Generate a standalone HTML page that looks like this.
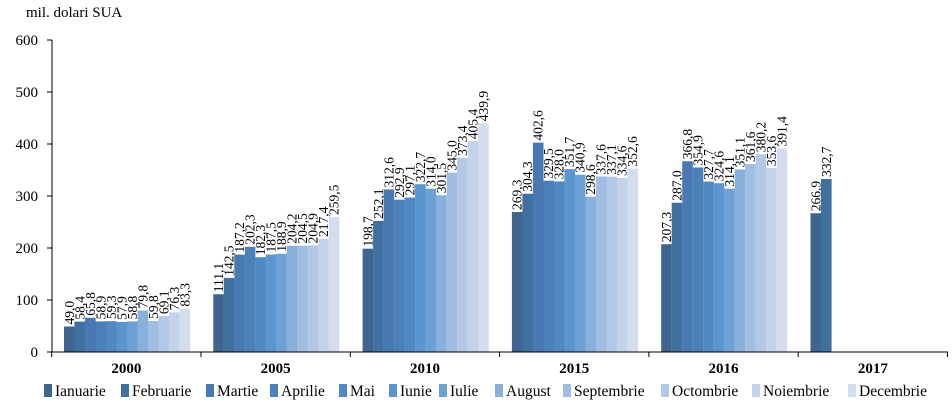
<!DOCTYPE html><html><head><meta charset="utf-8"><style>body{margin:0;background:#fff}svg{display:block}text{font-family:"Liberation Serif",serif;fill:#000}</style></head><body>
<svg id="s" width="952" height="412" xmlns="http://www.w3.org/2000/svg"></svg>
<script>
const s=document.getElementById('s');const NS='http://www.w3.org/2000/svg';
function el(t,a,txt){const e=document.createElementNS(NS,t);for(const k in a)e.setAttribute(k,a[k]);if(txt!==undefined)e.textContent=txt;s.appendChild(e);return e;}
const cols=['#3e6590','#41709f','#4879b0','#4b80b9','#5088c3','#5b95cf','#6ca1d6','#89afdc','#a1bee2','#b3c8e6','#c3d3ec','#d3ddee'];
const data=[[49.0,58.4,65.8,58.9,59.3,57.9,58.8,79.8,59.8,69.1,76.3,83.3],
[111.1,142.5,187.2,202.3,182.3,187.5,188.9,204.2,204.5,204.9,217.4,259.5],
[198.7,252.1,312.6,292.9,297.1,322.7,314.0,301.5,345.0,373.4,405.4,439.9],
[269.3,304.3,402.6,329.5,328.0,351.7,340.9,298.6,337.6,337.1,334.6,352.6],
[207.3,287.0,366.8,354.9,327.7,324.6,314.1,351.1,361.6,380.2,353.6,391.4],
[266.9,332.7]];
const years=['2000','2005','2010','2015','2016','2017'];
const x0=51.7,gw=149.3,y0=352,k=0.52;
el('text',{x:26,y:17,'font-size':15},'mil. dolari SUA');
for(let i=0;i<=6;i++){const y=y0-i*52;el('line',{x1:47,x2:52,y1:y,y2:y,stroke:'#000'});el('text',{x:38,y:y+5,'font-size':15,'text-anchor':'end'},i*100);}
data.forEach((g,gi)=>{g.forEach((v,j)=>{const x=x0+gi*gw+12.3+j*10.5;const h=v*k;
el('rect',{x:x,y:y0-h,width:10.6,height:h,fill:cols[j]});
el('text',{transform:`translate(${x+9.8},${y0-h-2}) rotate(-90)`,'font-size':13.5},v.toFixed(1).replace('.',','));});
el('text',{x:x0+gi*gw+gw/2,y:373,'font-size':15,'font-weight':'bold','text-anchor':'middle'},years[gi]);});
el('line',{x1:52,x2:52,y1:40,y2:352,stroke:'#000'});
el('line',{x1:52,x2:948,y1:352,y2:352,stroke:'#000'});
for(let i=0;i<=6;i++){const x=x0+i*gw;el('line',{x1:x,x2:x,y1:352,y2:357,stroke:'#000'});}
const names=['Ianuarie','Februarie','Martie','Aprilie','Mai','Iunie','Iulie','August','Septembrie','Octombrie','Noiembrie','Decembrie'];
let lx=[44,121,206,270,339,389,439,495,563,661,752,848];
names.forEach((n,i)=>{const x=lx[i];el('rect',{x:x,y:384,width:8,height:13,fill:cols[i]});el('text',{x:x+11,y:396,'font-size':15.5},n);});
</script></body></html>
